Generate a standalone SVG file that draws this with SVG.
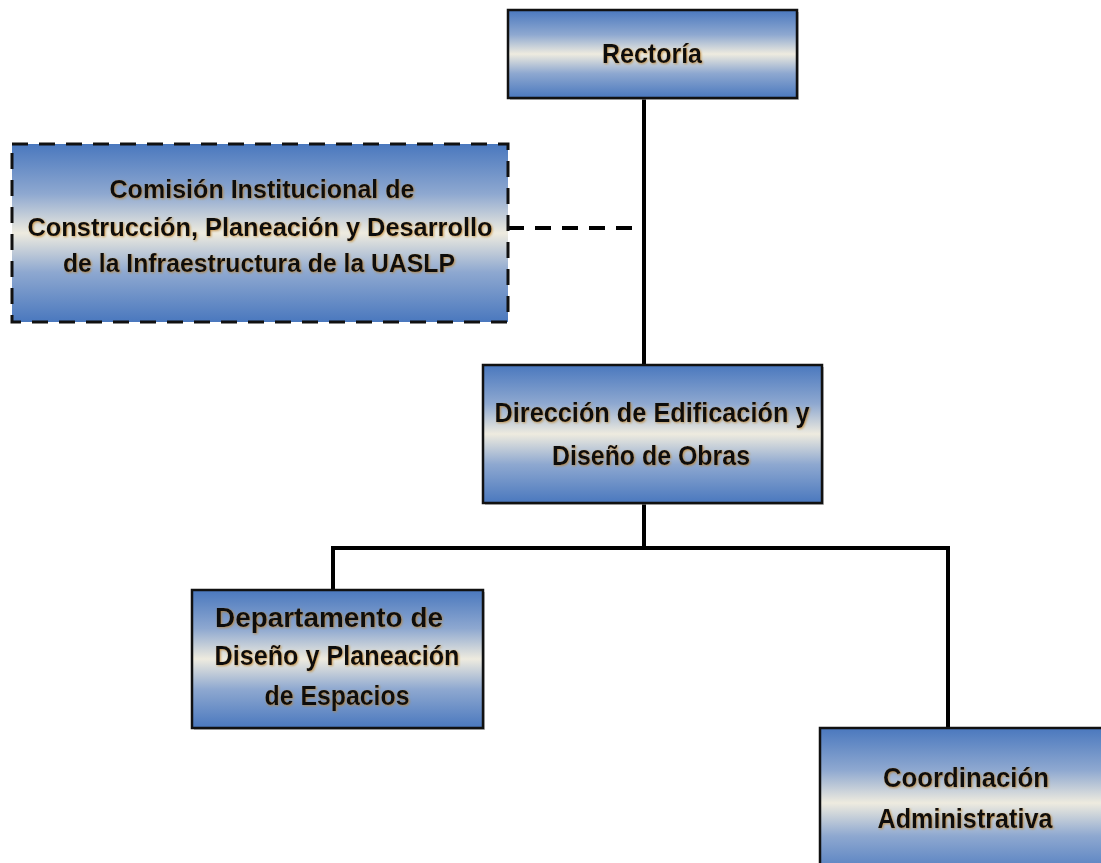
<svg xmlns="http://www.w3.org/2000/svg" width="1101" height="863" viewBox="0 0 1101 863">
<defs>
<linearGradient id="g" x1="0" y1="0" x2="0" y2="1">
<stop offset="0" stop-color="#4A78BE"/>
<stop offset="0.28" stop-color="#8EA8D0"/>
<stop offset="0.5" stop-color="#EEEBDF"/>
<stop offset="0.72" stop-color="#8EA8D0"/>
<stop offset="1" stop-color="#4A78BE"/>
</linearGradient>
<filter id="ts" x="-5%" y="-20%" width="110%" height="140%">
<feGaussianBlur in="SourceAlpha" stdDeviation="0.8" result="b"/>
<feOffset in="b" dx="1" dy="1" result="o"/>
<feFlood flood-color="#C08020" flood-opacity="0.7"/>
<feComposite in2="o" operator="in" result="s"/>
<feMerge><feMergeNode in="s"/><feMergeNode in="SourceGraphic"/></feMerge>
</filter>
</defs>
<style>
.box{fill:url(#g);stroke:#111;stroke-width:2.5}
.dash{fill:url(#g);stroke:#111;stroke-width:3;stroke-dasharray:16 11}
.sh{fill:#999;opacity:0.6}
.t{font-family:"Liberation Sans",Arial,sans-serif;font-weight:bold;font-size:28px;fill:#111;text-anchor:middle;filter:url(#ts)}
.ts{font-size:25px}
.ln{stroke:#000;stroke-width:4;fill:none}
.dl{stroke:#000;stroke-width:4;fill:none;stroke-dasharray:16 11}
</style>
<g id="connectors">
<line class="ln" x1="644" y1="98" x2="644" y2="365"/>
<line class="dl" x1="508" y1="228" x2="640" y2="228"/>
<line class="ln" x1="644" y1="503" x2="644" y2="548"/>
<polyline class="ln" points="333,590 333,548 948,548 948,728"/>
</g>
<g id="rectoria">
<rect class="sh" x="510" y="12" width="289" height="88"/>
<rect class="box" x="508" y="10" width="289" height="88"/>
<text class="t" x="652" y="63" textLength="100" lengthAdjust="spacingAndGlyphs">Rectoría</text>
</g>
<g id="comision">
<rect class="dash" x="12" y="144" width="496" height="178"/>
<text class="t ts" x="262" y="198" textLength="305" lengthAdjust="spacingAndGlyphs">Comisión Institucional de</text>
<text class="t ts" x="260" y="236" textLength="465" lengthAdjust="spacingAndGlyphs">Construcción, Planeación y Desarrollo</text>
<text class="t ts" x="259" y="272" textLength="392" lengthAdjust="spacingAndGlyphs">de la Infraestructura de la UASLP</text>
</g>
<g id="direccion">
<rect class="sh" x="485" y="367" width="339" height="138"/>
<rect class="box" x="483" y="365" width="339" height="138"/>
<text class="t" x="652" y="422" textLength="315" lengthAdjust="spacingAndGlyphs">Dirección de Edificación y</text>
<text class="t" x="651" y="465" textLength="198" lengthAdjust="spacingAndGlyphs">Diseño de Obras</text>
</g>
<g id="departamento">
<rect class="sh" x="194" y="592" width="291" height="138"/>
<rect class="box" x="192" y="590" width="291" height="138"/>
<text class="t" x="329" y="627" textLength="228" lengthAdjust="spacingAndGlyphs">Departamento de</text>
<text class="t" x="337" y="665" textLength="245" lengthAdjust="spacingAndGlyphs">Diseño y Planeación</text>
<text class="t" x="337" y="705" textLength="145" lengthAdjust="spacingAndGlyphs">de Espacios</text>
</g>
<g id="coordinacion">
<rect class="box" x="820" y="728" width="300" height="150"/>
<text class="t" x="966" y="787" textLength="166" lengthAdjust="spacingAndGlyphs">Coordinación</text>
<text class="t" x="965" y="828" textLength="175" lengthAdjust="spacingAndGlyphs">Administrativa</text>
</g>
</svg>
